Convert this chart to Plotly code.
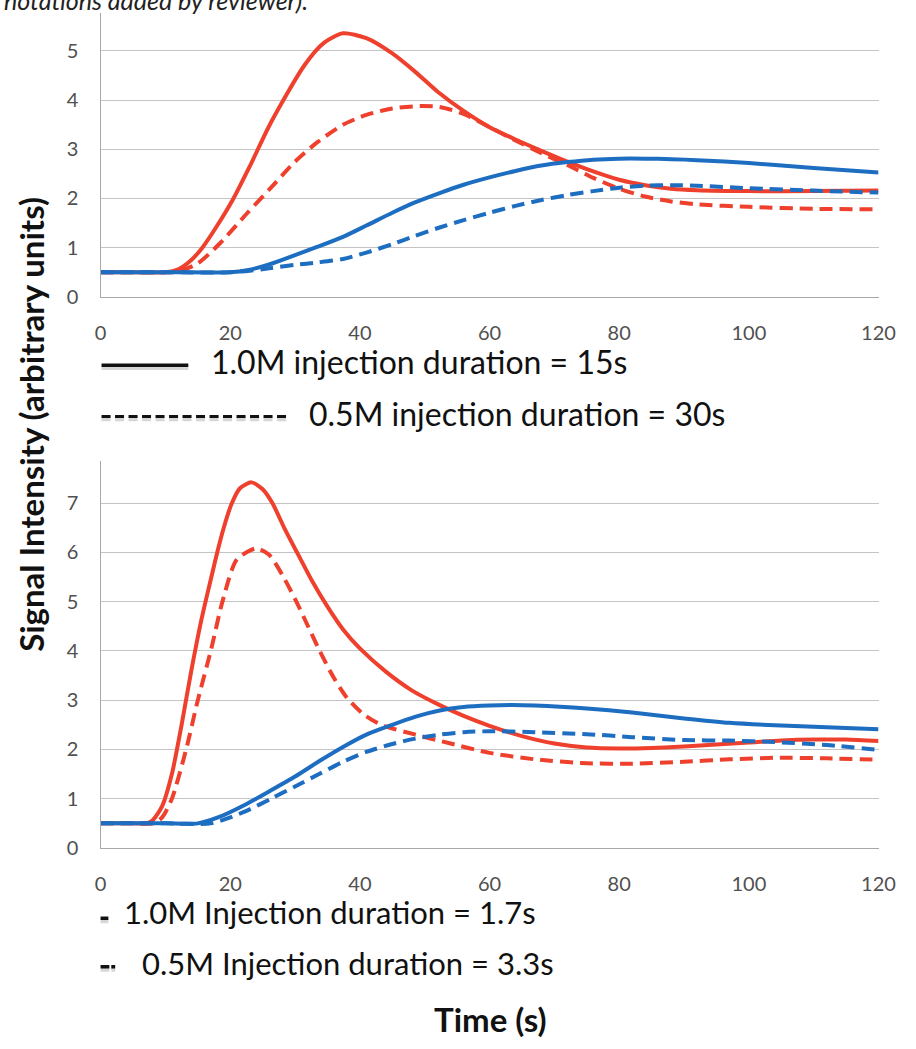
import plotly.graph_objects as go

W, H = 916, 1049

# ---------------- data ----------------
# Top panel: 1.0M 15 s (solid) vs 0.5M 30 s (dashed)
top_red_solid_t = [0, 5, 10, 12, 14, 15.7, 18, 20.5, 23, 26.3, 31.5, 34.5, 37.4, 41, 45, 48.5, 52, 56, 60, 64, 68, 72, 76, 80, 84, 88, 92, 100, 110, 120]
top_red_solid_v = [0.5, 0.5, 0.5, 0.56, 0.75, 1.0, 1.45, 2.0, 2.65, 3.55, 4.72, 5.17, 5.36, 5.26, 4.95, 4.58, 4.17, 3.78, 3.45, 3.2, 2.97, 2.75, 2.55, 2.38, 2.27, 2.2, 2.17, 2.15, 2.15, 2.16]

top_red_dash_t = [0, 5, 10, 12, 15, 18.5, 22.6, 26.5, 30, 33.5, 37.4, 41, 45, 49.3, 52.3, 56, 60, 64, 68, 72, 76, 80, 84, 88, 92, 100, 110, 120]
top_red_dash_v = [0.5, 0.5, 0.5, 0.52, 0.68, 1.1, 1.7, 2.25, 2.75, 3.15, 3.5, 3.7, 3.83, 3.88, 3.86, 3.72, 3.45, 3.18, 2.92, 2.68, 2.42, 2.2, 2.04, 1.94, 1.88, 1.83, 1.79, 1.78]

top_blue_solid_t = [0, 10, 20, 22.6, 26, 30, 33.5, 37.4, 41, 45, 48.5, 52.3, 56, 60, 64, 68, 72, 76, 80, 84, 88, 92, 100, 110, 120]
top_blue_solid_v = [0.5, 0.5, 0.5, 0.54, 0.66, 0.85, 1.02, 1.22, 1.45, 1.71, 1.92, 2.11, 2.28, 2.43, 2.56, 2.67, 2.74, 2.79, 2.81, 2.81, 2.8, 2.78, 2.72, 2.62, 2.53]

top_blue_dash_t = [0, 10, 20, 23, 26, 30, 33.5, 37.4, 41, 45, 48.5, 52.3, 56, 60, 64, 68, 72, 76, 80, 84, 88, 92, 100, 110, 120]
top_blue_dash_v = [0.5, 0.5, 0.5, 0.53, 0.58, 0.65, 0.7, 0.77, 0.9, 1.07, 1.24, 1.41, 1.56, 1.71, 1.85, 1.97, 2.07, 2.15, 2.22, 2.26, 2.27, 2.26, 2.21, 2.16, 2.12]

# Bottom panel: 1.0M 1.7 s (solid) vs 0.5M 3.3 s (dashed)
bot_red_solid_t = [0, 5, 7, 8, 9.5, 11, 12.5, 14, 15.5, 17, 18, 19, 20.2, 21.5, 23.3, 25, 26.5, 28.5, 30.5, 32.5, 35, 37.5, 40, 44, 48, 52, 56, 60, 65, 70, 75, 80, 85, 90, 95, 100, 105, 110, 115, 120]
bot_red_solid_v = [0.5, 0.5, 0.5, 0.56, 0.85, 1.5, 2.5, 3.6, 4.6, 5.45, 6.0, 6.5, 6.98, 7.3, 7.42, 7.28, 7.0, 6.45, 5.95, 5.45, 4.9, 4.42, 4.05, 3.58, 3.2, 2.92, 2.68, 2.48, 2.27, 2.12, 2.04, 2.02, 2.03, 2.06, 2.1, 2.14, 2.18, 2.2, 2.2, 2.17]

bot_red_dash_t = [0, 5, 8, 9.5, 11, 13.2, 15, 17, 18.8, 21, 24, 26, 28, 30.2, 32, 33.8, 36, 38, 40.5, 43.3, 48.6, 54, 60, 67, 75, 82, 90, 97, 104, 112, 120]
bot_red_dash_v = [0.5, 0.5, 0.5, 0.62, 1.0, 2.0, 3.0, 4.0, 5.0, 5.85, 6.08, 5.95, 5.55, 5.0, 4.5, 4.0, 3.45, 3.05, 2.72, 2.5, 2.3, 2.12, 1.93, 1.8, 1.72, 1.71, 1.75, 1.8, 1.83, 1.82, 1.79]

bot_blue_solid_t = [0, 10, 15, 18.1, 22.6, 26.3, 30, 33.7, 37.4, 41, 45, 48.5, 52.3, 56, 60, 63.5, 67, 75, 82, 90, 97, 104, 112, 120]
bot_blue_solid_v = [0.5, 0.5, 0.5, 0.62, 0.9, 1.17, 1.45, 1.76, 2.05, 2.3, 2.5, 2.66, 2.79, 2.86, 2.89, 2.9, 2.89, 2.83, 2.75, 2.63, 2.54, 2.49, 2.45, 2.41]

bot_blue_dash_t = [0, 10, 17, 20, 22.6, 26.3, 30, 33.7, 37.4, 41, 45, 48.5, 52.3, 56, 60, 67, 75, 82, 90, 97, 104, 112, 120]
bot_blue_dash_v = [0.5, 0.5, 0.5, 0.62, 0.76, 1.0, 1.25, 1.5, 1.75, 1.95, 2.11, 2.22, 2.3, 2.35, 2.37, 2.35, 2.31, 2.25, 2.19, 2.18, 2.15, 2.09, 1.99]

x_ticks = [0, 20, 40, 60, 80, 100, 120]
top_y_ticks = [0, 1, 2, 3, 4, 5]
bot_y_ticks = [0, 1, 2, 3, 4, 5, 6, 7]

legend_top = ["1.0M injection duration = 15s", "0.5M injection duration = 30s"]
legend_bot = ["1.0M Injection duration = 1.7s", "0.5M Injection duration = 3.3s"]
y_title = "Signal Intensity (arbitrary units)"
x_title = "Time (s)"
note = "notations added by reviewer)."

# ---------------- styling ----------------
RED = "#EE402C"
BLUE = "#1D6DC1"
LW = 4
DASH = "13px,7px"
FONT = "Lato"
TICKC = "#505050"
GRID = "#C4C4C4"
AXLINE = "#A8A8A8"


def px(x):
    return x / W


def py(y):
    return 1 - y / H


fig = go.Figure()

series = [
    (top_red_solid_t, top_red_solid_v, RED, "solid", "x", "y"),
    (top_red_dash_t, top_red_dash_v, RED, DASH, "x", "y"),
    (top_blue_solid_t, top_blue_solid_v, BLUE, "solid", "x", "y"),
    (top_blue_dash_t, top_blue_dash_v, BLUE, DASH, "x", "y"),
    (bot_red_solid_t, bot_red_solid_v, RED, "solid", "x2", "y2"),
    (bot_red_dash_t, bot_red_dash_v, RED, DASH, "x2", "y2"),
    (bot_blue_solid_t, bot_blue_solid_v, BLUE, "solid", "x2", "y2"),
    (bot_blue_dash_t, bot_blue_dash_v, BLUE, DASH, "x2", "y2"),
]
for t, v, c, d, xa, ya in series:
    fig.add_trace(go.Scatter(
        x=t, y=v, mode="lines", xaxis=xa, yaxis=ya,
        line=dict(color=c, width=LW, dash=d, shape="spline", smoothing=0.7),
        showlegend=False, hoverinfo="skip",
    ))

x_dom = [px(97), px(895)]
top_dom = [py(300), py(13)]
bot_dom = [py(857), py(466)]

common_x = dict(
    range=[0, 120], tickvals=x_ticks, showgrid=False, zeroline=False,
    showline=True, linecolor=AXLINE, linewidth=1.3,
    ticks="outside", ticklen=18, tickcolor="rgba(0,0,0,0)",
    tickfont=dict(family=FONT, size=20, color=TICKC), domain=x_dom,
)
common_y = dict(
    showgrid=True, gridcolor=GRID, gridwidth=1.3, zeroline=False,
    showline=True, linecolor=AXLINE, linewidth=1.3,
    ticks="outside", ticklen=17, tickcolor="rgba(0,0,0,0)",
    tickfont=dict(family=FONT, size=20, color=TICKC),
)

fig.update_layout(
    width=W, height=H,
    margin=dict(l=0, r=0, t=0, b=0),
    paper_bgcolor="white", plot_bgcolor="white",
    xaxis=dict(**common_x, anchor="y"),
    yaxis=dict(**common_y, range=[0, (300 - 13) / 49.7], tickvals=top_y_ticks,
               domain=top_dom, anchor="x"),
    xaxis2=dict(**common_x, anchor="y2"),
    yaxis2=dict(**common_y, range=[0, (857 - 466) / 49.8], tickvals=bot_y_ticks,
                domain=bot_dom, anchor="x2"),
    font=dict(family=FONT),
)

ann = []
# reviewer note, clipped at the top edge
ann.append(dict(text="<i>" + note + "</i>", x=px(-4), y=py(17), xref="paper", yref="paper",
                xanchor="left", yanchor="bottom", showarrow=False,
                font=dict(family=FONT, size=25, color="#222222")))
# legends (text)
LEGF = dict(family=FONT, size=32, color="#111111")
LEGF2 = dict(family=FONT, size=31, color="#111111")
ann.append(dict(text=legend_top[0], x=px(208), y=py(365), xref="paper", yref="paper",
                xanchor="left", yanchor="middle", showarrow=False, font=LEGF))
ann.append(dict(text=legend_top[1], x=px(309), y=py(418), xref="paper", yref="paper",
                xanchor="left", yanchor="middle", showarrow=False, font=LEGF))
ann.append(dict(text=legend_bot[0], x=px(119), y=py(922), xref="paper", yref="paper",
                xanchor="left", yanchor="middle", showarrow=False, font=LEGF2))
ann.append(dict(text=legend_bot[1], x=px(137), y=py(973), xref="paper", yref="paper",
                xanchor="left", yanchor="middle", showarrow=False, font=LEGF2))
# axis titles
ann.append(dict(text="<b>" + y_title + "</b>", x=px(25), y=py(429), xref="paper", yref="paper",
                xanchor="center", yanchor="middle", showarrow=False, textangle=-90,
                font=dict(family=FONT, size=33, color="#111111")))
ann.append(dict(text="<b>" + x_title + "</b>", x=px(497), y=py(1030), xref="paper", yref="paper",
                xanchor="center", yanchor="middle", showarrow=False,
                font=dict(family=FONT, size=33, color="#111111")))
fig.update_layout(annotations=ann)

# legend line samples (decorations)
shapes = []


def seg(x0, x1, y, dash="solid", w=3.5):
    shapes.append(dict(type="line", xref="paper", yref="paper",
                       x0=px(x0), x1=px(x1), y0=py(y + 2.5), y1=py(y + 2.5),
                       line=dict(color="rgba(0,0,0,0.16)", width=w + 1.5, dash=dash)))
    shapes.append(dict(type="line", xref="paper", yref="paper",
                       x0=px(x0), x1=px(x1), y0=py(y), y1=py(y),
                       line=dict(color="#111111", width=w, dash=dash)))


seg(98, 187, 369)
seg(98, 290, 421, dash="9px,4.5px", w=3)
seg(97, 105, 928, w=3.5)
seg(97, 106, 977, w=3.5)
seg(108, 112, 977, w=3.5)
fig.update_layout(shapes=shapes)

fig.write_html("out.html")
